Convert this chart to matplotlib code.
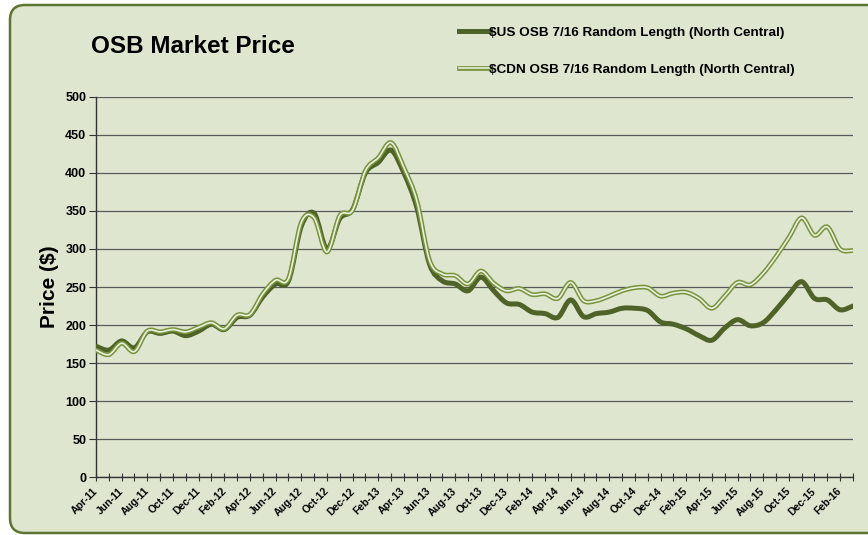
import numpy as np
import matplotlib
matplotlib.use('Agg')
import matplotlib.pyplot as plt
from matplotlib.path import Path
from matplotlib.patches import PathPatch, FancyBboxPatch
from matplotlib.lines import Line2D
from matplotlib.legend_handler import HandlerTuple

plt.rcParams['font.family'] = ['Liberation Sans', 'DejaVu Sans']
plt.rcParams['font.weight'] = 'bold'

# ============================================================
# 数据（月度，Apr-11 ~ Mar-16）
# ============================================================
months = [
    'Apr-11', 'May-11', 'Jun-11', 'Jul-11', 'Aug-11', 'Sep-11', 'Oct-11', 'Nov-11', 'Dec-11',
    'Jan-12', 'Feb-12', 'Mar-12', 'Apr-12', 'May-12', 'Jun-12', 'Jul-12', 'Aug-12', 'Sep-12',
    'Oct-12', 'Nov-12', 'Dec-12', 'Jan-13', 'Feb-13', 'Mar-13', 'Apr-13', 'May-13', 'Jun-13',
    'Jul-13', 'Aug-13', 'Sep-13', 'Oct-13', 'Nov-13', 'Dec-13', 'Jan-14', 'Feb-14', 'Mar-14',
    'Apr-14', 'May-14', 'Jun-14', 'Jul-14', 'Aug-14', 'Sep-14', 'Oct-14', 'Nov-14', 'Dec-14',
    'Jan-15', 'Feb-15', 'Mar-15', 'Apr-15', 'May-15', 'Jun-15', 'Jul-15', 'Aug-15', 'Sep-15',
    'Oct-15', 'Nov-15', 'Dec-15', 'Jan-16', 'Feb-16', 'Mar-16',
]

us_price = [
    172, 167, 179, 170, 191, 189, 192, 186, 192,
    201, 194, 210, 213, 237, 254, 258, 330, 347,
    300, 340, 352, 400, 414, 430, 400, 355, 280,
    258, 254, 245, 263, 245, 229, 227, 217, 215,
    210, 233, 211, 215, 217, 222, 222, 219, 204,
    201, 195, 186, 180, 196, 207, 199, 203, 220,
    240, 257, 235, 233, 220, 225,
]

cdn_price = [
    167, 161, 176, 165, 192, 191, 194, 191, 197,
    203, 195, 213, 214, 241, 259, 261, 335, 341,
    296, 344, 351, 403, 420, 440, 407, 364, 285,
    267, 265, 254, 271, 255, 245, 248, 240, 241,
    235, 256, 232, 232, 238, 245, 249, 249, 238,
    242, 243, 235, 222, 238, 256, 253, 268, 290,
    315, 341, 318, 329, 300, 298,
]

US_COLOR = '#4F6228'
CDN_OUTER = '#77933C'
CDN_INNER = '#EAF0DE'
BG_COLOR = '#DEE6CF'
BORDER_COLOR = '#5E7530'


def smooth_path(values):
    """Excel 式平滑折线：用三次贝塞尔曲线穿过每个数据点"""
    y = np.asarray(values, dtype=float)
    x = np.arange(len(y), dtype=float)
    n = len(y)
    verts = [(x[0], y[0])]
    codes = [Path.MOVETO]
    for i in range(n - 1):
        p0 = max(i - 1, 0)
        p3 = min(i + 2, n - 1)
        c1 = (x[i] + (x[i + 1] - x[p0]) / 6, y[i] + (y[i + 1] - y[p0]) / 6)
        c2 = (x[i + 1] - (x[p3] - x[i]) / 6, y[i + 1] - (y[p3] - y[i]) / 6)
        verts += [c1, c2, (x[i + 1], y[i + 1])]
        codes += [Path.CURVE4] * 3
    return Path(verts, codes)


fig = plt.figure(figsize=(8.68, 5.35), dpi=100, facecolor='white')

# 圆角背景框
box = FancyBboxPatch((0.10, 0.02), 8.85, 5.28,
                     boxstyle='round,pad=0,rounding_size=0.15',
                     transform=fig.dpi_scale_trans,
                     facecolor=BG_COLOR, edgecolor=BORDER_COLOR, linewidth=1.8,
                     zorder=0)
fig.add_artist(box)

ax = fig.add_axes([0.1106, 0.1084, 0.8721, 0.7103])
ax.set_facecolor('none')

# 折线（平滑）
us_path = smooth_path(us_price)
cdn_path = smooth_path(cdn_price)
ax.add_patch(PathPatch(us_path, fill=False, edgecolor=US_COLOR, lw=3.6,
                       capstyle='round', joinstyle='round', zorder=3))
ax.add_patch(PathPatch(cdn_path, fill=False, edgecolor=CDN_OUTER, lw=3.4,
                       capstyle='round', joinstyle='round', zorder=4))
ax.add_patch(PathPatch(cdn_path, fill=False, edgecolor=CDN_INNER, lw=1.2,
                       capstyle='round', joinstyle='round', zorder=5))

ax.set_xlim(0, len(months) - 1)
ax.set_ylim(0, 500)
ax.set_yticks(np.arange(0, 501, 50))
ax.set_xticks(np.arange(len(months)))
ax.set_xticklabels([m if i % 2 == 0 else '' for i, m in enumerate(months)],
                   rotation=45, ha='right', va='center', rotation_mode='anchor',
                   fontsize=7.5, fontweight='bold')
for lab in ax.get_yticklabels():
    lab.set_fontsize(9)
    lab.set_fontweight('bold')

ax.tick_params(axis='x', direction='inout', length=6, width=0.8, pad=6, colors='#333333')
ax.tick_params(axis='x', labelcolor='black')
ax.tick_params(axis='y', direction='out', length=5, width=0.8, pad=2, colors='#333333')
ax.tick_params(axis='y', labelcolor='black')

ax.yaxis.grid(True, color='#5A5A5A', linewidth=0.9)
ax.set_axisbelow(True)
for side in ['top', 'right']:
    ax.spines[side].set_visible(False)
for side in ['left', 'bottom']:
    ax.spines[side].set_color('#333333')
    ax.spines[side].set_linewidth(1.0)

fig.text(0.1048, 0.914, 'OSB Market Price', fontsize=17.5, fontweight='bold',
         ha='left', va='center')
fig.text(0.057, 0.464, 'Price ($)', fontsize=15, fontweight='bold',
         rotation=90, ha='center', va='center')

# 图例
us_handle = Line2D([], [], color=US_COLOR, lw=3.6)
cdn_handle = (Line2D([], [], color=CDN_OUTER, lw=3.4),
              Line2D([], [], color=CDN_INNER, lw=1.2))
fig.legend(handles=[us_handle, cdn_handle],
           labels=['$US OSB 7/16 Random Length (North Central)',
                   '$CDN OSB 7/16 Random Length (North Central)'],
           handler_map={tuple: HandlerTuple(ndivide=1, pad=0)},
           loc='upper left', bbox_to_anchor=(0.5288, 0.951),
           frameon=False, fontsize=9.7, handlelength=2.2, handletextpad=0.02,
           labelspacing=1.85, borderpad=0, borderaxespad=0)

fig.savefig('out.png', dpi=100, facecolor='white')
